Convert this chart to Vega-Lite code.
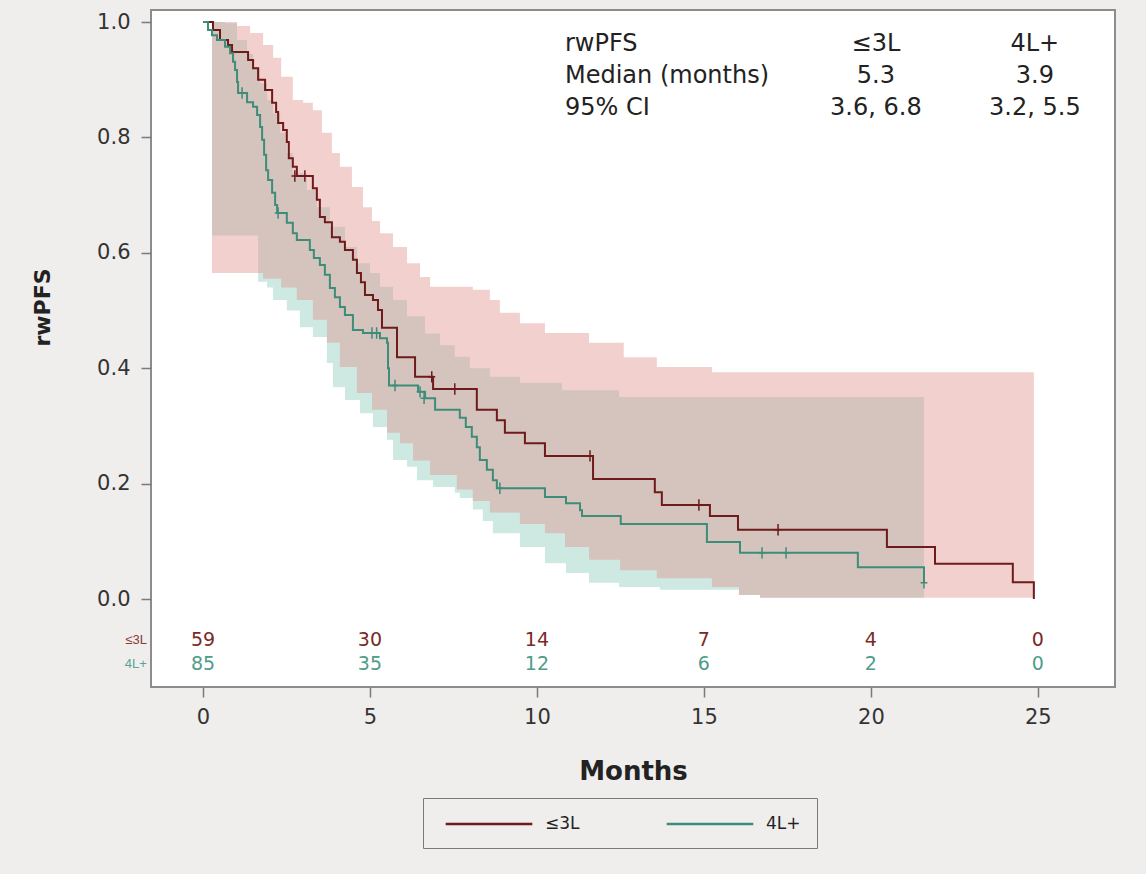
{
  "$schema": "https://vega.github.io/schema/vega-lite/v6.json",
  "width": 964,
  "height": 677,
  "autosize": {"type": "none"},
  "padding": {"left": 151, "top": 10, "right": 31, "bottom": 187},
  "background": "#efeeed",
  "config": {
    "font": "DejaVu Sans",
    "view": {"fill": "#ffffff", "stroke": "#8c8c8c", "strokeWidth": 2}
  },
  "datasets": {
    "curve": [
      {"group": "≤3L", "t": 0, "S": 1.0}, {"group": "≤3L", "t": 0.30, "S": 0.986}, {"group": "≤3L", "t": 0.51, "S": 0.969},
      {"group": "≤3L", "t": 0.75, "S": 0.96}, {"group": "≤3L", "t": 0.87, "S": 0.948}, {"group": "≤3L", "t": 1.35, "S": 0.934},
      {"group": "≤3L", "t": 1.50, "S": 0.92}, {"group": "≤3L", "t": 1.65, "S": 0.90}, {"group": "≤3L", "t": 1.86, "S": 0.882},
      {"group": "≤3L", "t": 2.07, "S": 0.86}, {"group": "≤3L", "t": 2.19, "S": 0.844}, {"group": "≤3L", "t": 2.25, "S": 0.825},
      {"group": "≤3L", "t": 2.40, "S": 0.813}, {"group": "≤3L", "t": 2.51, "S": 0.792}, {"group": "≤3L", "t": 2.57, "S": 0.764},
      {"group": "≤3L", "t": 2.69, "S": 0.749}, {"group": "≤3L", "t": 2.81, "S": 0.733}, {"group": "≤3L", "t": 3.29, "S": 0.712},
      {"group": "≤3L", "t": 3.41, "S": 0.692}, {"group": "≤3L", "t": 3.50, "S": 0.662}, {"group": "≤3L", "t": 3.65, "S": 0.653},
      {"group": "≤3L", "t": 3.86, "S": 0.627}, {"group": "≤3L", "t": 4.10, "S": 0.619}, {"group": "≤3L", "t": 4.25, "S": 0.605},
      {"group": "≤3L", "t": 4.49, "S": 0.588}, {"group": "≤3L", "t": 4.61, "S": 0.565}, {"group": "≤3L", "t": 4.73, "S": 0.549},
      {"group": "≤3L", "t": 4.85, "S": 0.527}, {"group": "≤3L", "t": 5.09, "S": 0.518}, {"group": "≤3L", "t": 5.24, "S": 0.501},
      {"group": "≤3L", "t": 5.36, "S": 0.47}, {"group": "≤3L", "t": 5.81, "S": 0.419}, {"group": "≤3L", "t": 6.35, "S": 0.385},
      {"group": "≤3L", "t": 6.89, "S": 0.364}, {"group": "≤3L", "t": 8.20, "S": 0.328}, {"group": "≤3L", "t": 8.80, "S": 0.31},
      {"group": "≤3L", "t": 9.04, "S": 0.288}, {"group": "≤3L", "t": 9.64, "S": 0.27}, {"group": "≤3L", "t": 10.24, "S": 0.248},
      {"group": "≤3L", "t": 11.68, "S": 0.208}, {"group": "≤3L", "t": 13.53, "S": 0.185}, {"group": "≤3L", "t": 13.74, "S": 0.163},
      {"group": "≤3L", "t": 15.18, "S": 0.144}, {"group": "≤3L", "t": 16.02, "S": 0.12}, {"group": "≤3L", "t": 20.48, "S": 0.09},
      {"group": "≤3L", "t": 21.92, "S": 0.061}, {"group": "≤3L", "t": 24.25, "S": 0.029}, {"group": "≤3L", "t": 24.88, "S": 0.0},
      {"group": "4L+", "t": 0, "S": 1.0}, {"group": "4L+", "t": 0.15, "S": 0.986}, {"group": "4L+", "t": 0.27, "S": 0.977},
      {"group": "4L+", "t": 0.42, "S": 0.969}, {"group": "4L+", "t": 0.66, "S": 0.957}, {"group": "4L+", "t": 0.81, "S": 0.946},
      {"group": "4L+", "t": 0.90, "S": 0.931}, {"group": "4L+", "t": 0.96, "S": 0.917}, {"group": "4L+", "t": 1.02, "S": 0.896},
      {"group": "4L+", "t": 1.05, "S": 0.877}, {"group": "4L+", "t": 1.32, "S": 0.861}, {"group": "4L+", "t": 1.50, "S": 0.853},
      {"group": "4L+", "t": 1.62, "S": 0.839}, {"group": "4L+", "t": 1.71, "S": 0.818}, {"group": "4L+", "t": 1.77, "S": 0.796},
      {"group": "4L+", "t": 1.83, "S": 0.77}, {"group": "4L+", "t": 1.89, "S": 0.743}, {"group": "4L+", "t": 1.95, "S": 0.726},
      {"group": "4L+", "t": 2.07, "S": 0.704}, {"group": "4L+", "t": 2.16, "S": 0.683}, {"group": "4L+", "t": 2.22, "S": 0.669},
      {"group": "4L+", "t": 2.51, "S": 0.652}, {"group": "4L+", "t": 2.69, "S": 0.634}, {"group": "4L+", "t": 2.81, "S": 0.622},
      {"group": "4L+", "t": 3.20, "S": 0.605}, {"group": "4L+", "t": 3.32, "S": 0.591}, {"group": "4L+", "t": 3.50, "S": 0.579},
      {"group": "4L+", "t": 3.65, "S": 0.562}, {"group": "4L+", "t": 3.80, "S": 0.539}, {"group": "4L+", "t": 3.95, "S": 0.523},
      {"group": "4L+", "t": 4.10, "S": 0.506}, {"group": "4L+", "t": 4.25, "S": 0.492}, {"group": "4L+", "t": 4.49, "S": 0.466},
      {"group": "4L+", "t": 4.79, "S": 0.461}, {"group": "4L+", "t": 5.30, "S": 0.452}, {"group": "4L+", "t": 5.51, "S": 0.444},
      {"group": "4L+", "t": 5.54, "S": 0.40}, {"group": "4L+", "t": 5.57, "S": 0.37}, {"group": "4L+", "t": 6.44, "S": 0.359},
      {"group": "4L+", "t": 6.65, "S": 0.348}, {"group": "4L+", "t": 6.95, "S": 0.328}, {"group": "4L+", "t": 7.69, "S": 0.314},
      {"group": "4L+", "t": 7.87, "S": 0.298}, {"group": "4L+", "t": 8.05, "S": 0.281}, {"group": "4L+", "t": 8.20, "S": 0.263},
      {"group": "4L+", "t": 8.29, "S": 0.241}, {"group": "4L+", "t": 8.50, "S": 0.224}, {"group": "4L+", "t": 8.68, "S": 0.206},
      {"group": "4L+", "t": 8.80, "S": 0.192}, {"group": "4L+", "t": 10.24, "S": 0.177}, {"group": "4L+", "t": 10.87, "S": 0.166},
      {"group": "4L+", "t": 11.29, "S": 0.154}, {"group": "4L+", "t": 11.35, "S": 0.144}, {"group": "4L+", "t": 12.51, "S": 0.13},
      {"group": "4L+", "t": 15.09, "S": 0.099}, {"group": "4L+", "t": 16.08, "S": 0.08}, {"group": "4L+", "t": 19.61, "S": 0.055},
      {"group": "4L+", "t": 21.59, "S": 0.028}
    ],
    "censor": [
      {"group": "≤3L", "t": 2.75, "S": 0.733}, {"group": "≤3L", "t": 3.05, "S": 0.733}, {"group": "≤3L", "t": 6.85, "S": 0.385},
      {"group": "≤3L", "t": 7.54, "S": 0.364}, {"group": "≤3L", "t": 11.59, "S": 0.248}, {"group": "≤3L", "t": 14.85, "S": 0.163},
      {"group": "≤3L", "t": 17.22, "S": 0.12},
      {"group": "4L+", "t": 1.17, "S": 0.877}, {"group": "4L+", "t": 2.25, "S": 0.669}, {"group": "4L+", "t": 5.06, "S": 0.461},
      {"group": "4L+", "t": 5.20, "S": 0.461}, {"group": "4L+", "t": 5.75, "S": 0.37}, {"group": "4L+", "t": 6.50, "S": 0.359},
      {"group": "4L+", "t": 6.62, "S": 0.348}, {"group": "4L+", "t": 8.89, "S": 0.192}, {"group": "4L+", "t": 16.74, "S": 0.08},
      {"group": "4L+", "t": 17.46, "S": 0.08}, {"group": "4L+", "t": 21.59, "S": 0.028}
    ],
    "band": [
      {"group": "≤3L", "t": 0.27, "hi": 1.0, "lo": 0.565}, {"group": "≤3L", "t": 1.02, "hi": 0.993, "lo": 0.565},
      {"group": "≤3L", "t": 1.41, "hi": 0.981, "lo": 0.565}, {"group": "≤3L", "t": 1.80, "hi": 0.96, "lo": 0.555},
      {"group": "≤3L", "t": 2.10, "hi": 0.938, "lo": 0.555}, {"group": "≤3L", "t": 2.34, "hi": 0.905, "lo": 0.54},
      {"group": "≤3L", "t": 2.69, "hi": 0.865, "lo": 0.54}, {"group": "≤3L", "t": 2.81, "hi": 0.865, "lo": 0.518},
      {"group": "≤3L", "t": 3.00, "hi": 0.86, "lo": 0.518}, {"group": "≤3L", "t": 3.29, "hi": 0.847, "lo": 0.484},
      {"group": "≤3L", "t": 3.56, "hi": 0.808, "lo": 0.484}, {"group": "≤3L", "t": 3.71, "hi": 0.808, "lo": 0.444},
      {"group": "≤3L", "t": 3.86, "hi": 0.773, "lo": 0.444}, {"group": "≤3L", "t": 4.10, "hi": 0.749, "lo": 0.402},
      {"group": "≤3L", "t": 4.46, "hi": 0.714, "lo": 0.402}, {"group": "≤3L", "t": 4.61, "hi": 0.714, "lo": 0.357},
      {"group": "≤3L", "t": 4.79, "hi": 0.679, "lo": 0.357}, {"group": "≤3L", "t": 5.06, "hi": 0.655, "lo": 0.328},
      {"group": "≤3L", "t": 5.30, "hi": 0.634, "lo": 0.328}, {"group": "≤3L", "t": 5.51, "hi": 0.634, "lo": 0.288},
      {"group": "≤3L", "t": 5.69, "hi": 0.61, "lo": 0.288}, {"group": "≤3L", "t": 5.90, "hi": 0.61, "lo": 0.27},
      {"group": "≤3L", "t": 6.11, "hi": 0.582, "lo": 0.27}, {"group": "≤3L", "t": 6.29, "hi": 0.582, "lo": 0.24},
      {"group": "≤3L", "t": 6.50, "hi": 0.558, "lo": 0.24}, {"group": "≤3L", "t": 6.80, "hi": 0.541, "lo": 0.215},
      {"group": "≤3L", "t": 7.60, "hi": 0.541, "lo": 0.19}, {"group": "≤3L", "t": 8.08, "hi": 0.536, "lo": 0.17},
      {"group": "≤3L", "t": 8.59, "hi": 0.518, "lo": 0.15}, {"group": "≤3L", "t": 8.89, "hi": 0.496, "lo": 0.15},
      {"group": "≤3L", "t": 9.49, "hi": 0.478, "lo": 0.13}, {"group": "≤3L", "t": 10.24, "hi": 0.461, "lo": 0.114},
      {"group": "≤3L", "t": 10.84, "hi": 0.461, "lo": 0.09}, {"group": "≤3L", "t": 11.56, "hi": 0.444, "lo": 0.068},
      {"group": "≤3L", "t": 12.49, "hi": 0.444, "lo": 0.05}, {"group": "≤3L", "t": 12.60, "hi": 0.419, "lo": 0.05},
      {"group": "≤3L", "t": 13.59, "hi": 0.402, "lo": 0.036}, {"group": "≤3L", "t": 15.24, "hi": 0.393, "lo": 0.021},
      {"group": "≤3L", "t": 16.05, "hi": 0.393, "lo": 0.007}, {"group": "≤3L", "t": 16.68, "hi": 0.393, "lo": 0.002},
      {"group": "≤3L", "t": 24.88, "hi": 0.393, "lo": 0.002},
      {"group": "4L+", "t": 0.27, "hi": 1.0, "lo": 0.63}, {"group": "4L+", "t": 0.66, "hi": 0.998, "lo": 0.63},
      {"group": "4L+", "t": 1.02, "hi": 0.969, "lo": 0.63}, {"group": "4L+", "t": 1.32, "hi": 0.945, "lo": 0.63},
      {"group": "4L+", "t": 1.50, "hi": 0.922, "lo": 0.63}, {"group": "4L+", "t": 1.65, "hi": 0.922, "lo": 0.55},
      {"group": "4L+", "t": 1.71, "hi": 0.894, "lo": 0.55}, {"group": "4L+", "t": 1.92, "hi": 0.865, "lo": 0.54},
      {"group": "4L+", "t": 2.10, "hi": 0.842, "lo": 0.518}, {"group": "4L+", "t": 2.31, "hi": 0.808, "lo": 0.518},
      {"group": "4L+", "t": 2.51, "hi": 0.773, "lo": 0.50}, {"group": "4L+", "t": 2.69, "hi": 0.738, "lo": 0.50},
      {"group": "4L+", "t": 2.90, "hi": 0.738, "lo": 0.471}, {"group": "4L+", "t": 3.11, "hi": 0.709, "lo": 0.471},
      {"group": "4L+", "t": 3.29, "hi": 0.709, "lo": 0.454}, {"group": "4L+", "t": 3.41, "hi": 0.679, "lo": 0.454},
      {"group": "4L+", "t": 3.71, "hi": 0.679, "lo": 0.409}, {"group": "4L+", "t": 3.80, "hi": 0.645, "lo": 0.409},
      {"group": "4L+", "t": 3.89, "hi": 0.645, "lo": 0.367}, {"group": "4L+", "t": 4.25, "hi": 0.61, "lo": 0.345},
      {"group": "4L+", "t": 4.61, "hi": 0.582, "lo": 0.345}, {"group": "4L+", "t": 4.70, "hi": 0.582, "lo": 0.322},
      {"group": "4L+", "t": 5.00, "hi": 0.565, "lo": 0.322}, {"group": "4L+", "t": 5.09, "hi": 0.565, "lo": 0.298},
      {"group": "4L+", "t": 5.30, "hi": 0.541, "lo": 0.298}, {"group": "4L+", "t": 5.51, "hi": 0.541, "lo": 0.276},
      {"group": "4L+", "t": 5.69, "hi": 0.518, "lo": 0.241}, {"group": "4L+", "t": 6.11, "hi": 0.49, "lo": 0.229},
      {"group": "4L+", "t": 6.41, "hi": 0.49, "lo": 0.206}, {"group": "4L+", "t": 6.65, "hi": 0.46, "lo": 0.206},
      {"group": "4L+", "t": 6.89, "hi": 0.46, "lo": 0.194}, {"group": "4L+", "t": 7.10, "hi": 0.44, "lo": 0.194},
      {"group": "4L+", "t": 7.54, "hi": 0.42, "lo": 0.184}, {"group": "4L+", "t": 7.69, "hi": 0.42, "lo": 0.175},
      {"group": "4L+", "t": 7.99, "hi": 0.40, "lo": 0.175}, {"group": "4L+", "t": 8.08, "hi": 0.40, "lo": 0.155},
      {"group": "4L+", "t": 8.38, "hi": 0.40, "lo": 0.135}, {"group": "4L+", "t": 8.59, "hi": 0.385, "lo": 0.135},
      {"group": "4L+", "t": 8.68, "hi": 0.385, "lo": 0.114}, {"group": "4L+", "t": 9.49, "hi": 0.375, "lo": 0.09},
      {"group": "4L+", "t": 10.24, "hi": 0.375, "lo": 0.062}, {"group": "4L+", "t": 10.75, "hi": 0.362, "lo": 0.062},
      {"group": "4L+", "t": 10.87, "hi": 0.362, "lo": 0.045}, {"group": "4L+", "t": 11.56, "hi": 0.362, "lo": 0.028},
      {"group": "4L+", "t": 12.46, "hi": 0.35, "lo": 0.021}, {"group": "4L+", "t": 13.68, "hi": 0.35, "lo": 0.016},
      {"group": "4L+", "t": 16.05, "hi": 0.35, "lo": 0.007}, {"group": "4L+", "t": 16.68, "hi": 0.35, "lo": 0.002},
      {"group": "4L+", "t": 21.59, "hi": 0.35, "lo": 0.002}
    ],
    "atrisk": [
      {"group": "≤3L", "t": 0, "n": 59}, {"group": "≤3L", "t": 5, "n": 30}, {"group": "≤3L", "t": 10, "n": 14},
      {"group": "≤3L", "t": 15, "n": 7}, {"group": "≤3L", "t": 20, "n": 4}, {"group": "≤3L", "t": 25, "n": 0},
      {"group": "4L+", "t": 0, "n": 85}, {"group": "4L+", "t": 5, "n": 35}, {"group": "4L+", "t": 10, "n": 12},
      {"group": "4L+", "t": 15, "n": 6}, {"group": "4L+", "t": 20, "n": 2}, {"group": "4L+", "t": 25, "n": 0}
    ],
    "stats": [
      {"stat": "rwPFS", "le3L": "≤3L", "l4": "4L+"},
      {"stat": "Median (months)", "le3L": "5.3", "l4": "3.9"},
      {"stat": "95% CI", "le3L": "3.6, 6.8", "l4": "3.2, 5.5"}
    ]
  },
  "layer": [
    {
      "encoding": {
        "x": {"type": "quantitative", "scale": {"domain": [-1.557, 27.31], "nice": false, "zero": false}},
        "y": {"type": "quantitative", "scale": {"domain": [-0.1525, 1.0208], "nice": false, "zero": false}}
      },
      "layer": [
        {
          "data": {"name": "band"},
          "transform": [{"filter": "datum.group === '4L+'"}],
          "mark": {"type": "area", "interpolate": "step-after", "color": "#cde9e2", "opacity": 1},
          "encoding": {
            "x": {"field": "t", "type": "quantitative",
              "axis": {"values": [0, 5, 10, 15, 20, 25], "title": "Months", "titleFontSize": 26, "titleFontWeight": "bold", "titleColor": "#222222", "titlePadding": 31, "labelFontSize": 21, "labelColor": "#333333", "labelPadding": 9, "tickSize": 10, "tickColor": "#7a7a7a", "tickWidth": 1.5, "domain": false, "grid": false}},
            "y": {"field": "hi", "type": "quantitative",
              "axis": {"values": [0, 0.2, 0.4, 0.6, 0.8, 1.0], "format": ".1f", "title": "rwPFS", "titleFontSize": 22, "titleFontWeight": "bold", "titleColor": "#222222", "titleX": -109, "titleY": 297, "titleAlign": "center", "titleBaseline": "middle", "titleAngle": 270, "labelFontSize": 21, "labelColor": "#333333", "labelPadding": 11, "tickSize": 10, "tickColor": "#7a7a7a", "tickWidth": 1.5, "domain": false, "grid": false}},
            "y2": {"field": "lo"}
          }
        },
        {
          "data": {"name": "band"},
          "transform": [{"filter": "datum.group === '≤3L'"}],
          "mark": {"type": "area", "interpolate": "step-after", "color": "#e1928d", "opacity": 0.43},
          "encoding": {
            "x": {"field": "t", "type": "quantitative"},
            "y": {"field": "hi", "type": "quantitative"},
            "y2": {"field": "lo"}
          }
        },
        {
          "data": {"name": "curve"},
          "mark": {"type": "line", "interpolate": "step-after", "strokeWidth": 2},
          "encoding": {
            "x": {"field": "t", "type": "quantitative"},
            "y": {"field": "S", "type": "quantitative"},
            "color": {"field": "group", "type": "nominal",
              "scale": {"domain": ["≤3L", "4L+"], "range": ["#6e1b1b", "#3d8d79"]},
              "legend": {"orient": "none", "legendX": 272, "legendY": 788, "direction": "horizontal", "title": null,
                "strokeColor": "#7a7a7a", "padding": 16, "columnPadding": 80, "labelOffset": 46, "symbolOffset": 40, "labelFontSize": 17,
                "labelColor": "#222222", "symbolType": "M-5,0H5", "symbolSize": 300, "symbolStrokeWidth": 2.5}}
          }
        },
        {
          "data": {"name": "censor"},
          "mark": {"type": "point", "shape": "M0,-1V1M-0.6,0H0.6", "filled": false, "strokeWidth": 1.5, "size": 130, "opacity": 1},
          "encoding": {
            "x": {"field": "t", "type": "quantitative"},
            "y": {"field": "S", "type": "quantitative"},
            "stroke": {"field": "group", "type": "nominal",
              "scale": {"domain": ["≤3L", "4L+"], "range": ["#6e1b1b", "#3d8d79"]}, "legend": null}
          }
        },
        {
          "data": {"name": "atrisk"},
          "transform": [{"filter": "datum.group === '≤3L'"}],
          "mark": {"type": "text", "fontSize": 19, "color": "#7a2a25", "baseline": "middle", "align": "center"},
          "encoding": {
            "x": {"field": "t", "type": "quantitative"},
            "y": {"datum": -0.0711},
            "text": {"field": "n", "type": "quantitative"}
          }
        },
        {
          "data": {"name": "atrisk"},
          "transform": [{"filter": "datum.group === '4L+'"}],
          "mark": {"type": "text", "fontSize": 19, "color": "#4f9c88", "baseline": "middle", "align": "center"},
          "encoding": {
            "x": {"field": "t", "type": "quantitative"},
            "y": {"datum": -0.1127},
            "text": {"field": "n", "type": "quantitative"}
          }
        },
        {
          "data": {"values": [{"group": "≤3L"}]},
          "mark": {"type": "text", "font": "Liberation Sans", "fontSize": 13, "color": "#8a3a35", "baseline": "middle", "align": "right"},
          "encoding": {
            "x": {"datum": -1.68},
            "y": {"datum": -0.0711},
            "text": {"field": "group", "type": "nominal"}
          }
        },
        {
          "data": {"values": [{"group": "4L+"}]},
          "mark": {"type": "text", "font": "Liberation Sans", "fontSize": 13, "color": "#5aa592", "baseline": "middle", "align": "right"},
          "encoding": {
            "x": {"datum": -1.68},
            "y": {"datum": -0.1127},
            "text": {"field": "group", "type": "nominal"}
          }
        }
      ]
    },
    {
      "data": {"name": "stats"},
      "encoding": {
        "y": {"field": "stat", "type": "nominal", "scale": {"type": "point", "domain": ["rwPFS", "Median (months)", "95% CI"], "range": [34, 98], "padding": 0}, "axis": null}
      },
      "layer": [
        {
          "mark": {"type": "text", "fontSize": 24, "color": "#222222", "align": "left", "baseline": "middle"},
          "encoding": {"x": {"datum": 10.84}, "text": {"field": "stat", "type": "nominal"}}
        },
        {
          "mark": {"type": "text", "fontSize": 24, "color": "#222222", "align": "center", "baseline": "middle"},
          "encoding": {"x": {"datum": 20.15}, "text": {"field": "le3L", "type": "nominal"}}
        },
        {
          "mark": {"type": "text", "fontSize": 24, "color": "#222222", "align": "center", "baseline": "middle"},
          "encoding": {"x": {"datum": 24.91}, "text": {"field": "l4", "type": "nominal"}}
        }
      ]
    }
  ],
  "resolve": {"scale": {"y": "independent"}}
}
